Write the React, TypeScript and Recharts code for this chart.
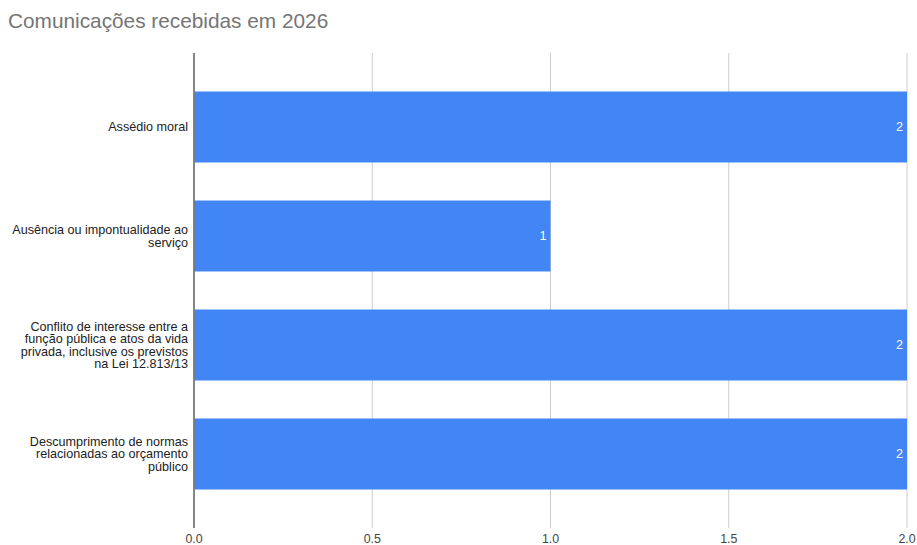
import { BarChart, Bar, XAxis, YAxis, CartesianGrid, LabelList } from 'recharts'

// categories (line breaks follow the wrapping in the original)
const categories = [
    'Assédio moral',
    'Ausência ou impontualidade ao\nserviço',
    'Conflito de interesse entre a\nfunção pública e atos da vida\nprivada, inclusive os previstos\nna Lei 12.813/13',
    'Descumprimento de normas\nrelacionadas ao orçamento\npúblico',
]
const values = [2, 1, 2, 2]
const xTicks = [0, 0.5, 1, 1.5, 2]
const title = 'Comunicações recebidas em 2026'

const chartData = categories.map((name, i) => ({ name, value: values[i] }))

const FONT = '"Liberation Sans", Arial, sans-serif'

const CategoryTick = ({ x, y, payload }: any) => {
    const lines = String(payload.value).split('\n')
    const lineH = 12.6
    const startY = y - ((lines.length - 1) * lineH) / 2
    const tx = 188
    return (
        <text x={tx} y={startY} textAnchor="end" fill="#222" fontSize={12.6} fontFamily={FONT}>
            {lines.map((l, i) => (
                <tspan key={i} x={tx} y={startY + i * lineH} dy="0.35em">{l}</tspan>
            ))}
        </text>
    )
}

export default function App() {
    return (
        <div style={{ position: 'relative', width: 917, height: 545, fontFamily: FONT, background: '#fff' }}>
            <style>{`body { margin: 0; }`}</style>
            <div style={{ position: 'absolute', left: 8, top: 11, fontSize: 20.8, lineHeight: '20px', color: '#757575' }}>
                {title}
            </div>
            <BarChart
                width={917}
                height={545}
                data={chartData}
                layout="vertical"
                margin={{ top: 53, right: 10, left: 0, bottom: 0 }}
            >
                <CartesianGrid horizontal={false} vertical={true} stroke="#cccccc" />
                <XAxis
                    type="number"
                    domain={[0, 2]}
                    ticks={xTicks}
                    tickFormatter={(v: number) => v.toFixed(1)}
                    axisLine={false}
                    tickLine={false}
                    tickSize={0}
                    tickMargin={6}
                    height={17}
                    tick={{ fill: '#444', fontSize: 12.4, fontFamily: FONT }}
                />
                <YAxis
                    type="category"
                    dataKey="name"
                    width={194}
                    padding={{ top: 19.5, bottom: 19.5 }}
                    axisLine={{ stroke: '#7a7a7a', strokeWidth: 1.8 }}
                    tickLine={false}
                    tick={<CategoryTick />}
                    interval={0}
                />
                <Bar dataKey="value" fill="#4285F4" barSize={71} isAnimationActive={false}>
                    <LabelList
                        dataKey="value"
                        position="insideRight"
                        offset={4}
                        fill="#ffffff"
                        fontSize={12.6}
                        fontFamily={FONT}
                    />
                </Bar>
            </BarChart>
        </div>
    )
}
